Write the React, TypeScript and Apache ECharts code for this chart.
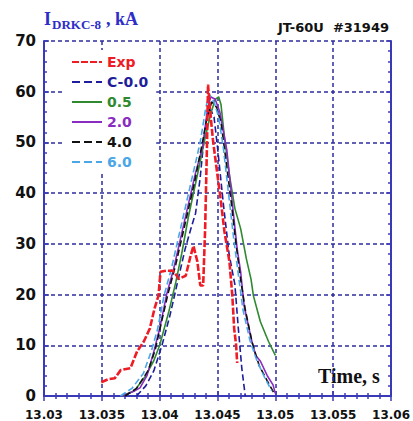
import React, { useEffect, useRef } from "react";
import * as echarts from "echarts";

// Experimental and model currents, [time s, current kA]
const expData: number[][] = [
  [13.03495, 2.7], [13.03554, 3.3], [13.03612, 3.5], [13.03663, 5.1], [13.03747, 5.5],
  [13.03805, 8.8], [13.03864, 10.8], [13.03915, 13.3], [13.03956, 17.3], [13.0399, 19.8],
  [13.04007, 24.5], [13.04057, 24.7], [13.04116, 24.7], [13.04166, 23.1], [13.04225, 23.7],
  [13.04267, 27.6], [13.04292, 29.6], [13.04326, 26.5], [13.04351, 21.8], [13.04376, 21.8],
  [13.04393, 32.9], [13.0441, 50.6], [13.04418, 61.4], [13.04435, 56.5], [13.0446, 50.6],
  [13.04493, 44.7], [13.04527, 38.8], [13.0456, 32.4], [13.04603, 26.5], [13.04628, 19.8],
  [13.04644, 13.3], [13.04661, 10], [13.0467, 6.5],
];

const c00Data: number[][] = [
  [13.038, 0], [13.0388, 2], [13.0395, 5], [13.0402, 10], [13.0409, 16], [13.0416, 23],
  [13.0422, 29], [13.0427, 33], [13.0431, 36], [13.0435, 43], [13.0438, 50], [13.0441, 55],
  [13.0444, 56.5], [13.0447, 55], [13.045, 49], [13.0455, 38], [13.046, 28], [13.0465, 22],
  [13.0468, 13.3], [13.0471, 5.5], [13.0474, 0],
];

const g05Data: number[][] = [
  [13.0367, 0], [13.0378, 1], [13.0388, 4], [13.0395, 7], [13.04, 10], [13.0408, 16.7],
  [13.0414, 22.5], [13.0419, 28], [13.0425, 35.5], [13.0433, 44], [13.0439, 50.6],
  [13.0444, 55.5], [13.0448, 58.5], [13.0451, 59], [13.0453, 57.5], [13.0456, 51],
  [13.046, 44], [13.0465, 37], [13.047, 33], [13.0475, 27], [13.0479, 23], [13.0481, 19.8],
  [13.0487, 14.7], [13.0494, 10.8], [13.05, 8],
];

const p20Data: number[][] = [
  [13.0368, 0], [13.0378, 1], [13.0383, 1.6], [13.0389, 4], [13.0395, 8.8], [13.04, 13.3],
  [13.0406, 20], [13.0412, 25], [13.042, 33], [13.0431, 44], [13.0437, 49], [13.0441, 56],
  [13.0444, 59], [13.0448, 58.5], [13.0452, 56], [13.0458, 48.6], [13.0464, 35.5],
  [13.0467, 29], [13.047, 24.5], [13.0473, 17.8], [13.0479, 11.4], [13.0483, 8],
  [13.0487, 6.9], [13.0493, 4], [13.0498, 2.2], [13.05, 0.5],
];

const k40Data: number[][] = [
  [13.037, 0], [13.038, 1.5], [13.039, 5], [13.0396, 9], [13.0401, 14], [13.0407, 20],
  [13.0414, 26], [13.0421, 33], [13.043, 42], [13.0437, 50], [13.0441, 55], [13.0445, 58],
  [13.0449, 57], [13.0453, 54], [13.0457, 47], [13.0462, 38], [13.0466, 30], [13.047, 23],
  [13.0474, 17], [13.048, 10.5], [13.0486, 6], [13.0493, 3], [13.0499, 0.5],
];

const b60Data: number[][] = [
  [13.0366, 0], [13.0376, 1.5], [13.0386, 4.5], [13.0393, 9], [13.0398, 13], [13.0404, 20],
  [13.041, 25], [13.0418, 33], [13.0428, 43], [13.0435, 50], [13.044, 57], [13.0443, 59.5],
  [13.0447, 58], [13.0451, 55], [13.0455, 49], [13.046, 39], [13.0464, 31], [13.0468, 24],
  [13.0472, 17], [13.0478, 11], [13.0484, 7], [13.0491, 3.5], [13.0497, 1],
];

const seriesNames = ["Exp", "C-0.0", "0.5", "2.0", "4.0", "6.0"];
const seriesColors = ["#ee1c24", "#1e1e9c", "#2f8a2f", "#8a2cc0", "#111111", "#4aa6e6"];
const seriesDash: (string | number[])[] = [[7, 2], "dashed", "solid", "solid", "dashed", "dashed"];
const seriesData = [expData, c00Data, g05Data, p20Data, k40Data, b60Data];

const xMin = 13.03;
const xMax = 13.06;
const xStep = 0.005;
const yMin = 0;
const yMax = 70;
const yStep = 10;

const NAVY = "#2c2ca0";
const FRAME = "#3a3ab8";

export default function App() {
  const ref = useRef<HTMLDivElement>(null);

  useEffect(() => {
    if (!ref.current) return;
    const chart = echarts.init(ref.current, undefined, { renderer: "svg" });

    const labelFont = { fontFamily: "DejaVu Sans", fontWeight: "bold" as const, color: "#111" };
    const tickCommon = {
      axisLine: { show: true, lineStyle: { color: FRAME, width: 2 } },
      axisTick: { show: true, inside: true, length: 5, lineStyle: { color: FRAME, width: 1.5 } },
      minorTick: { show: true, splitNumber: 5, length: 3, lineStyle: { color: FRAME, width: 1.5 } },
    };

    chart.setOption({
      animation: false,
      backgroundColor: "#ffffff",
      grid: { left: 44, right: 11, top: 41, bottom: 23, containLabel: false },
      legend: {
        orient: "vertical",
        left: 63,
        top: 50,
        padding: [5, 8, 5, 8],
        itemGap: 6,
        itemWidth: 30,
        itemHeight: 14,
        backgroundColor: "#ffffff",
        itemStyle: { opacity: 0, borderWidth: 0 },
        textStyle: { fontFamily: "DejaVu Sans", fontWeight: "bold", fontSize: 14 },
        data: seriesNames.map((n, i) => ({
          name: n,
          textStyle: { color: seriesColors[i] },
        })),
      },
      xAxis: [
        {
          type: "value",
          min: xMin,
          max: xMax,
          interval: xStep,
          position: "bottom",
          ...tickCommon,
          splitLine: { show: true, lineStyle: { color: NAVY, type: [4, 3], width: 1.5 } },
          axisLabel: {
            ...labelFont,
            fontSize: 12,
            margin: 13,
            showMinLabel: true,
            showMaxLabel: true,
            formatter: (v: number) => String(parseFloat(v.toFixed(3))),
          },
        },
        {
          type: "value",
          min: xMin,
          max: xMax,
          interval: xStep,
          position: "top",
          ...tickCommon,
          splitLine: { show: false },
          axisLabel: { show: false },
        },
      ],
      yAxis: [
        {
          type: "value",
          min: yMin,
          max: yMax,
          interval: yStep,
          position: "left",
          ...tickCommon,
          splitLine: { show: true, lineStyle: { color: NAVY, type: [4, 3], width: 1.5 } },
          axisLabel: { ...labelFont, fontSize: 15, margin: 8 },
        },
        {
          type: "value",
          min: yMin,
          max: yMax,
          interval: yStep,
          position: "right",
          ...tickCommon,
          splitLine: { show: false },
          axisLabel: { show: false },
        },
      ],
      series: seriesNames.map((n, i) => ({
        name: n,
        type: "line",
        xAxisIndex: 0,
        yAxisIndex: 0,
        data: seriesData[i],
        symbol: "none",
        z: i === 0 ? 5 : 2,
        color: seriesColors[i],
        lineStyle: {
          color: seriesColors[i],
          width: i === 0 ? 2.6 : 1.6,
          type: seriesDash[i],
        },
      })),
      graphic: [
        {
          type: "text",
          left: 44,
          top: 10,
          style: { text: "I", fontFamily: "Liberation Serif", fontWeight: "bold", fontSize: 18, fill: "#2d2dc8" },
        },
        {
          type: "text",
          left: 52,
          top: 18,
          style: { text: "DRKC-8", fontFamily: "Liberation Serif", fontWeight: "bold", fontSize: 13, fill: "#2d2dc8" },
        },
        {
          type: "text",
          left: 106,
          top: 10,
          style: { text: ", kA", fontFamily: "Liberation Serif", fontWeight: "bold", fontSize: 18, fill: "#2d2dc8" },
        },
        {
          type: "text",
          left: 278,
          top: 21,
          style: { text: "JT-60U  #31949", fontFamily: "DejaVu Sans", fontWeight: "bold", fontSize: 13, fill: "#111" },
        },
        {
          type: "text",
          left: 318,
          top: 366,
          style: { text: "Time, s", fontFamily: "Liberation Serif", fontWeight: "bold", fontSize: 20, fill: "#111" },
        },
      ],
    });

    return () => chart.dispose();
  }, []);

  return (
    <div
      ref={ref}
      style={{ position: "absolute", left: 0, top: 0, width: 413, height: 421 }}
    />
  );
}
